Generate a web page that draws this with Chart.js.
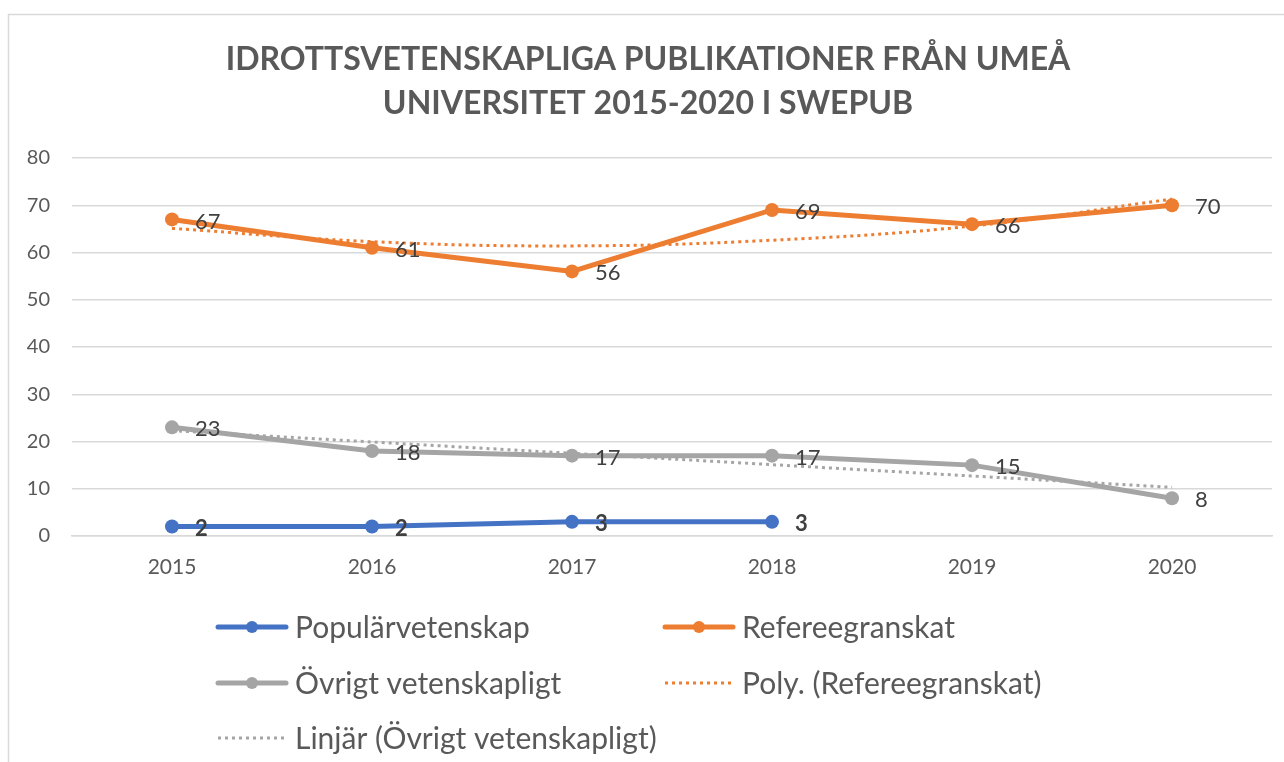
<!DOCTYPE html>
<html>
<head>
<meta charset="utf-8">
<title>Idrottsvetenskapliga publikationer</title>
<script src="https://cdn.jsdelivr.net/npm/chart.js@4.4.1/dist/chart.umd.min.js"></script>
<style>
  html, body { margin: 0; padding: 0; background: #fff; }
  #wrap { width: 1284px; height: 762px; }
</style>
</head>
<body>
<div id="wrap"><canvas id="chart" width="1284" height="762"></canvas></div>
<script>
// Data
const years = ['2015', '2016', '2017', '2018', '2019', '2020'];
const populär = [2, 2, 3, 3, null, null];
const referee = [67, 61, 56, 69, 66, 70];
const övrigt = [23, 18, 17, 17, 15, 8];
// trendlinjer
const polyReferee = [65.1, 62.3, 61.4, 62.6, 65.6, 71.3];
const linjärÖvrigt = [22.3, 19.9, 17.5, 15.1, 12.7, 10.3];
const yTicks = [0, 10, 20, 30, 40, 50, 60, 70, 80];

const BLUE = '#4472C4';
const ORANGE = '#ED7D31';
const GREY = '#A5A5A5';
const TEXT = '#595959';

Chart.defaults.font.family = 'Lato, "Noto Sans", sans-serif';
Chart.defaults.color = TEXT;

// ram runt diagrammet
const framePlugin = {
  id: 'frame',
  beforeDraw(chart) {
    const ctx = chart.ctx;
    ctx.save();
    ctx.fillStyle = '#fff';
    ctx.fillRect(0, 0, chart.width, chart.height);
    ctx.strokeStyle = '#d9d9d9';
    ctx.lineWidth = 1.5;
    ctx.strokeRect(8.5, 14.5, chart.width + 50, chart.height + 50);
    ctx.restore();
  }
};

// dataetiketter till höger om punkterna
const labelPlugin = {
  id: 'valueLabels',
  afterDatasetsDraw(chart) {
    const ctx = chart.ctx;
    chart.data.datasets.forEach((ds, i) => {
      if (!ds.showLabels) return;
      const meta = chart.getDatasetMeta(i);
      ctx.save();
      ctx.font = (ds.labelBold ? 'bold ' : '') + '22px Lato';
      ctx.fillStyle = '#404040';
      ctx.textAlign = 'left';
      ctx.textBaseline = 'middle';
      meta.data.forEach((pt, j) => {
        const v = ds.data[j];
        if (v === null || v === undefined) return;
        ctx.fillText(String(v), pt.x + 23, pt.y + 2);
      });
      ctx.restore();
    });
  }
};

// egen förklaring i två kolumner
const legendPlugin = {
  id: 'twoColLegend',
  afterDraw(chart, args, opts) {
    const ctx = chart.ctx;
    const order = opts.order;
    order.forEach((idx, k) => {
      const ds = chart.data.datasets[idx];
      const col = k % 2;
      const row = Math.floor(k / 2);
      const x = opts.cols[col];
      const y = opts.rows[row];
      ctx.save();
      ctx.strokeStyle = ds.borderColor;
      ctx.lineWidth = ds.borderWidth;
      if (ds.borderDash && ds.borderDash.length) {
        ctx.setLineDash(ds.borderDash);
        ctx.lineCap = 'butt';
      } else {
        ctx.lineCap = 'round';
      }
      ctx.beginPath();
      ctx.moveTo(x + 2, y);
      ctx.lineTo(x + 70, y);
      ctx.stroke();
      if (ds.pointRadius > 0) {
        ctx.setLineDash([]);
        ctx.fillStyle = ds.borderColor;
        ctx.beginPath();
        ctx.arc(x + 36, y, 6, 0, Math.PI * 2);
        ctx.fill();
      }
      ctx.fillStyle = TEXT;
      ctx.font = '30px Lato';
      ctx.textAlign = 'left';
      ctx.textBaseline = 'middle';
      ctx.fillText(ds.label, x + 79, y + 1);
      ctx.restore();
    });
  }
};

const ctx = document.getElementById('chart').getContext('2d');
new Chart(ctx, {
  type: 'line',
  data: {
    labels: years,
    datasets: [
      {
        label: 'Poly. (Refereegranskat)',
        data: polyReferee,
        borderColor: ORANGE,
        borderWidth: 3,
        borderDash: [3, 4],
        pointRadius: 0,
        tension: 0.4,
        fill: false,
        order: 0
      },
      {
        label: 'Linjär (Övrigt vetenskapligt)',
        data: linjärÖvrigt,
        borderColor: GREY,
        borderWidth: 3,
        borderDash: [3, 4],
        pointRadius: 0,
        tension: 0,
        fill: false,
        order: 0
      },
      {
        label: 'Populärvetenskap',
        data: populär,
        borderColor: BLUE,
        backgroundColor: BLUE,
        borderWidth: 5,
        pointRadius: 7,
        pointHoverRadius: 7,
        pointBorderWidth: 0,
        showLabels: true,
        labelBold: true,
        order: 1
      },
      {
        label: 'Refereegranskat',
        data: referee,
        borderColor: ORANGE,
        backgroundColor: ORANGE,
        borderWidth: 5,
        pointRadius: 7,
        pointHoverRadius: 7,
        pointBorderWidth: 0,
        showLabels: true,
        order: 1
      },
      {
        label: 'Övrigt vetenskapligt',
        data: övrigt,
        borderColor: GREY,
        backgroundColor: GREY,
        borderWidth: 5,
        pointRadius: 7,
        pointHoverRadius: 7,
        pointBorderWidth: 0,
        showLabels: true,
        order: 1
      }
    ]
  },
  options: {
    responsive: false,
    animation: false,
    layout: {
      padding: { top: 38, left: 24, right: 12, bottom: 166 }
    },
    plugins: {
      legend: { display: false },
      tooltip: { enabled: false },
      title: {
        display: true,
        text: ['IDROTTSVETENSKAPLIGA PUBLIKATIONER FRÅN UMEÅ', 'UNIVERSITET 2015-2020 I SWEPUB'],
        color: TEXT,
        font: { size: 32, weight: 'bold', lineHeight: 1.375 },
        padding: { top: 0, bottom: 32 }
      },
      twoColLegend: {
        order: [2, 3, 4, 0, 1],
        cols: [216, 663],
        rows: [627, 683, 738]
      }
    },
    scales: {
      x: {
        offset: true,
        grid: { display: false, drawTicks: false, offset: true },
        border: { display: true, color: '#d9d9d9', width: 1.5 },
        ticks: { font: { size: 21 }, color: TEXT, padding: 19 },
        afterFit(scale) { scale.height = 60; }
      },
      y: {
        min: 0,
        max: 80,
        afterBuildTicks(scale) {
          scale.ticks = yTicks.map(v => ({ value: v }));
        },
        grid: { color: '#d9d9d9', lineWidth: 1.5, drawTicks: false },
        border: { display: false },
        ticks: { font: { size: 20 }, color: TEXT, padding: 22 },
        afterFit(scale) { scale.width = 48; }
      }
    }
  },
  plugins: [framePlugin, labelPlugin, legendPlugin]
});
</script>
</body>
</html>
